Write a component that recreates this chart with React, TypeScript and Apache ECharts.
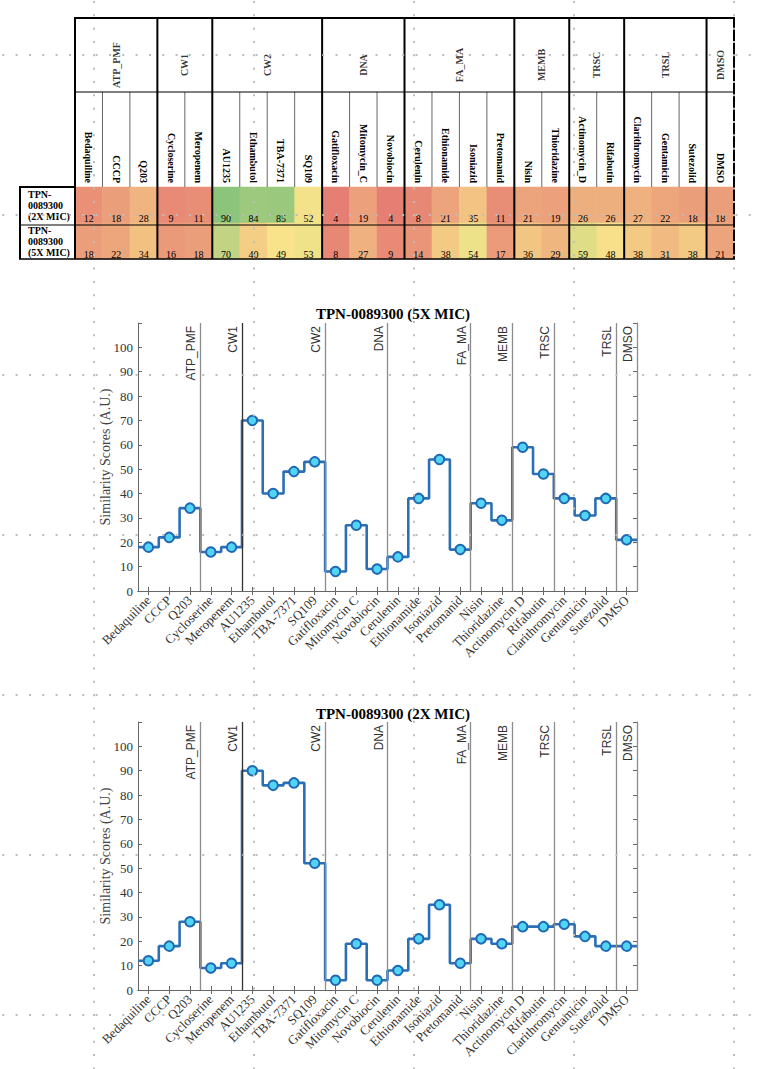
import React, { useEffect, useRef } from 'react';
import * as echarts from 'echarts';

// ---------------- data ----------------
const drugs = [
  'Bedaquiline', 'CCCP', 'Q203', 'Cycloserine', 'Meropenem', 'AU1235', 'Ethambutol', 'TBA-7371', 'SQ109',
  'Gatifloxacin', 'Mitomycin_C', 'Novobiocin', 'Cerulenin', 'Ethionamide', 'Isoniazid', 'Pretomanid',
  'Nisin', 'Thioridazine', 'Actinomycin_D', 'Rifabutin', 'Clarithromycin', 'Gentamicin', 'Sutezolid', 'DMSO',
];
const chartDrugLabels = drugs.map((d) => d.replace('_', ' '));
const groups = ['ATP_PMF', 'CW1', 'CW2', 'DNA', 'FA_MA', 'MEMB', 'TRSC', 'TRSL', 'DMSO'];
const groupSizes = [3, 2, 4, 3, 4, 2, 2, 3, 1];
const rowLabels = ['TPN-\n0089300\n(2X MIC)', 'TPN-\n0089300\n(5X MIC)'];
const scores2x = [12, 18, 28, 9, 11, 90, 84, 85, 52, 4, 19, 4, 8, 21, 35, 11, 21, 19, 26, 26, 27, 22, 18, 18];
const scores5x = [18, 22, 34, 16, 18, 70, 40, 49, 53, 8, 27, 9, 14, 38, 54, 17, 36, 29, 59, 48, 38, 31, 38, 21];
const yAxisMax = 110;
const yAxisStep = 10;
const yLabelMax = 100;
const colorStops = ['#e47671', '#f8e48a', '#72bc78'];

// ---------------- styles / layout ----------------
const SERIF = "'Liberation Serif', 'Times New Roman', serif";
const SANS = "'Liberation Sans', Arial, sans-serif";
const T_TOP = 18, T_GRP = 92, T_NAME = 187, T_MID = 225, T_BOT = 259, ROWHDR_LEFT = 20;

const boundaries: number[] = [];
{
  let acc = 0;
  groupSizes.forEach((s) => {
    acc += s;
    boundaries.push(acc + 0.5);
  });
}
const groupCenters = groupSizes.map((s, i) => boundaries[i] - s / 2);

const stairs = (v: number[]) => [
  [0.5, v[0]],
  ...v.map((y, i) => [i + 1, y]),
  [v.length + 0.5, v[v.length - 1]],
];

function chartAxes(gridIndex: number) {
  const frame = { show: true, lineStyle: { color: '#666', width: 1 } };
  const xAxes = [
    {
      type: 'category', gridIndex, data: chartDrugLabels, boundaryGap: true,
      axisLine: frame,
      axisTick: { show: true, inside: true, alignWithLabel: true, length: 4, interval: 0, lineStyle: { color: '#666' } },
      axisLabel: { rotate: 45, interval: 0, margin: 7, fontFamily: SERIF, fontSize: 13, color: '#333' },
      splitLine: { show: false },
    },
    {
      type: 'category', gridIndex, data: chartDrugLabels, boundaryGap: true, position: 'top',
      axisLine: frame,
      axisTick: { show: true, inside: true, alignWithLabel: true, length: 4, interval: 0, lineStyle: { color: '#666' } },
      axisLabel: { show: false },
      splitLine: { show: false },
    },
    { type: 'value', gridIndex, min: 0.5, max: drugs.length + 0.5, show: false },
  ];
  const yAxes = [
    {
      type: 'value', gridIndex, min: 0, max: yAxisMax, interval: yAxisStep,
      name: 'Similarity Scores (A.U.)', nameLocation: 'middle', nameGap: 26, nameMoveOverlap: false,
      nameTextStyle: { fontFamily: SERIF, fontSize: 14, color: '#444' },
      axisLine: frame,
      axisTick: { show: true, inside: true, length: 4, lineStyle: { color: '#666' } },
      axisLabel: {
        margin: 5, fontFamily: SERIF, fontSize: 13, color: '#333',
        formatter: (v: number) => (v > yLabelMax ? '' : String(v)),
      },
      splitLine: { show: false },
    },
    {
      type: 'value', gridIndex, min: 0, max: yAxisMax, interval: yAxisStep, position: 'right',
      axisLine: frame,
      axisTick: { show: true, inside: true, length: 4, lineStyle: { color: '#666' } },
      axisLabel: { show: false },
      splitLine: { show: false },
    },
  ];
  return { xAxes, yAxes };
}

function chartSeries(values: number[], xCat: number, xVal: number, yIdx: number) {
  const markData = groups.map((g, i) => ({
    name: g,
    xAxis: boundaries[i],
    lineStyle: i === 1 ? { color: '#333' } : undefined,
  }));
  return [
    {
      type: 'line', xAxisIndex: xVal, yAxisIndex: yIdx, data: stairs(values), step: 'middle',
      symbol: 'none', showSymbol: false, silent: true, z: 3,
      lineStyle: { color: '#2d6fb5', width: 2.6 },
      markLine: {
        symbol: ['none', 'none'], silent: true, animation: false,
        lineStyle: { color: '#8c8c8c', width: 1.3, type: 'solid' },
        label: {
          show: true, position: 'insideEndTop', formatter: '{b}', color: '#333',
          fontFamily: SANS, fontSize: 12, distance: 3,
        },
        emphasis: { disabled: true },
        data: markData,
      },
    },
    {
      type: 'scatter', xAxisIndex: xCat, yAxisIndex: yIdx, data: values, symbol: 'circle', symbolSize: 9.5,
      silent: true, z: 5,
      itemStyle: { color: '#52d5f5', borderColor: '#1f69b2', borderWidth: 2, opacity: 1 },
    },
  ];
}

export default function App() {
  const ref = useRef<HTMLDivElement>(null);
  useEffect(() => {
    if (!ref.current) return;
    const chart = echarts.init(ref.current, null, { renderer: 'svg' });
    const c1 = chartAxes(2);
    const c2 = chartAxes(3);
    const heatData = [scores2x, scores5x].flatMap((vals, r) => vals.map((v, c) => [c, r, v]));
    const titleStyle = { fontFamily: SERIF, fontWeight: 'bold', fontSize: 15, color: '#000' };

    const option: any = {
      animation: false,
      backgroundColor: '#fff',
      title: [
        { text: 'TPN-0089300 (5X MIC)', left: 388, top: 301, textAlign: 'center', textStyle: titleStyle },
        { text: 'TPN-0089300 (2X MIC)', left: 388, top: 701, textAlign: 'center', textStyle: titleStyle },
      ],
      grid: [
        { left: 75, top: T_NAME, width: 659, height: T_BOT - T_NAME, outerBoundsMode: 'none' },
        { left: 75, top: 28, width: 659, height: 74, outerBoundsMode: 'none' },
        { left: 138, top: 323, width: 499, height: 268, outerBoundsMode: 'none' },
        { left: 138, top: 722, width: 499, height: 268, outerBoundsMode: 'none' },
      ],
      visualMap: {
        show: false, type: 'continuous', min: 0, max: 100, seriesIndex: 0,
        inRange: { color: colorStops },
      },
      xAxis: [
        {
          type: 'category', gridIndex: 0, data: drugs, position: 'top',
          axisLine: { show: false }, axisTick: { show: false }, splitLine: { show: false },
          axisLabel: { rotate: 90, margin: 4, interval: 0, fontFamily: SERIF, fontWeight: 'bold', fontSize: 10, color: '#000' },
        },
        { type: 'value', gridIndex: 1, min: 0.5, max: drugs.length + 0.5, show: false },
        ...c1.xAxes,
        ...c2.xAxes,
      ],
      yAxis: [
        {
          type: 'category', gridIndex: 0, data: rowLabels, inverse: true,
          axisLine: { show: false }, axisTick: { show: false }, splitLine: { show: false },
          axisLabel: { margin: 47, align: 'left', fontFamily: SERIF, fontWeight: 'bold', fontSize: 10, lineHeight: 11, color: '#000' },
        },
        { type: 'value', gridIndex: 1, min: 0, max: 1, show: false },
        ...c1.yAxes,
        ...c2.yAxes,
      ],
      series: [
        {
          type: 'heatmap', xAxisIndex: 0, yAxisIndex: 0, data: heatData, silent: true,
          label: { show: true, position: 'insideBottom', distance: 0, fontFamily: SERIF, fontSize: 10, color: '#000' },
          itemStyle: { borderWidth: 0 },
          emphasis: { disabled: true },
        },
        {
          type: 'scatter', xAxisIndex: 1, yAxisIndex: 1, silent: true, symbolSize: 1,
          data: groups.map((g, i) => ({ name: g, value: [groupCenters[i], 0.5] })),
          itemStyle: { color: 'transparent' },
          label: { show: true, formatter: '{b}', rotate: 90, position: 'inside', fontFamily: SERIF, fontWeight: 'bold', fontSize: 10, color: '#000' },
        },
        ...chartSeries(scores5x, 2, 4, 2),
        ...chartSeries(scores2x, 5, 7, 4),
      ],
    };
    chart.setOption(option);

    // table rules, positioned through the table's own x scale
    const px = (b: number) => chart.convertToPixel({ xAxisIndex: 1 }, b) as number;
    const xL = px(0.5);
    const xR = px(drugs.length + 0.5);
    const line = (x1: number, y1: number, x2: number, y2: number, stroke: string, lineWidth: number, z = 50, lineDash?: number[]) => ({
      type: 'line', silent: true, z,
      shape: { x1, y1, x2, y2 },
      style: { stroke, lineWidth, lineDash },
    });
    const graphics: any[] = [];
    for (let b = 1.5; b < drugs.length; b += 1) {
      if (!boundaries.includes(b)) graphics.push(line(px(b), T_GRP, px(b), T_NAME, '#666', 1));
    }
    [0.5, ...boundaries].forEach((b) => graphics.push(line(px(b), T_TOP, px(b), T_BOT, '#000', 2)));
    graphics.push(line(xL - 1, T_TOP, xR + 1, T_TOP, '#000', 2));
    graphics.push(line(xL, T_GRP, xR, T_GRP, '#000', 1));
    graphics.push(line(ROWHDR_LEFT, T_MID, xR, T_MID, '#000', 1));
    graphics.push(line(ROWHDR_LEFT - 1, T_BOT, xR + 1, T_BOT, '#000', 1.5));
    graphics.push(line(ROWHDR_LEFT - 1, T_NAME, xL, T_NAME, '#000', 2));
    graphics.push(line(ROWHDR_LEFT, T_NAME, ROWHDR_LEFT, T_BOT, '#000', 2));

    // page dot grid
    const dotStyle = [2, 11.33];
    [55, 215, 375, 535, 695, 855, 1015].forEach((y) => graphics.push(line(2.3, y, 762, y, '#bdbdbd', 2, 100, dotStyle)));
    [94, 254, 414, 574, 734].forEach((x) => graphics.push(line(x, 1, x, 1069, '#bdbdbd', 2, 100, dotStyle)));

    chart.setOption({ graphic: graphics });

    return () => chart.dispose();
  }, []);

  return (
    <div
      ref={ref}
      style={{ position: 'absolute', left: 0, top: 0, width: 762, height: 1069, background: '#fff' }}
    />
  );
}
